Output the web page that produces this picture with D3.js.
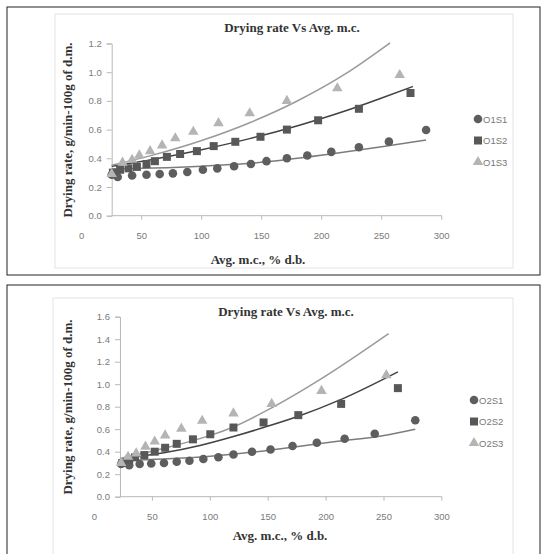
<!DOCTYPE html>
<html>
<head>
<meta charset="utf-8">
<script src="https://cdn.jsdelivr.net/npm/d3@7/dist/d3.min.js"></script>
<style>
  body { margin: 0; background: #fff; }
  svg { display: block; }
</style>
</head>
<body>
<div id="container"></div>
<script>
// ---- data ----
const xTicks = [0, 50, 100, 150, 200, 250, 300];
const yTicksTop = [0, 0.2, 0.4, 0.6, 0.8, 1.0, 1.2];
const yTicksBottom = [0, 0.2, 0.4, 0.6, 0.8, 1.0, 1.2, 1.4, 1.6];

const seriesTop = ['O1S1', 'O1S2', 'O1S3'];
const seriesBottom = ['O2S1', 'O2S2', 'O2S3'];

// panel 1 points [avg m.c., drying rate]
const o1s1 = [[25, 0.285], [30, 0.27], [42, 0.28], [54, 0.285], [65, 0.29], [76, 0.295], [88, 0.305], [101, 0.32], [113, 0.33], [127, 0.345], [141, 0.36], [154, 0.38], [171, 0.40], [188, 0.42], [208, 0.445], [231, 0.477], [256, 0.516], [287, 0.597]];
const o1s2 = [[26, 0.30], [32, 0.32], [39, 0.33], [46, 0.34], [54, 0.36], [61, 0.38], [71, 0.41], [82, 0.43], [96, 0.45], [110, 0.485], [128, 0.515], [149, 0.55], [171, 0.60], [197, 0.665], [231, 0.745], [274, 0.855]];
const o1s3 = [[25, 0.29], [34, 0.37], [42, 0.39], [48, 0.42], [57, 0.45], [67, 0.49], [78, 0.54], [93, 0.585], [114, 0.645], [140, 0.714], [171, 0.80], [213, 0.888], [265, 0.98]];

// panel 1 trend lines
const trendO1S1 = [[25, 0.325], [60, 0.332], [100, 0.345], [140, 0.365], [170, 0.39], [209, 0.432], [250, 0.48], [287, 0.527]];
const trendO1S2 = [[25, 0.345], [60, 0.394], [100, 0.46], [140, 0.537], [180, 0.627], [220, 0.731], [250, 0.82], [276, 0.9]];
const trendO1S3 = [[25, 0.352], [60, 0.424], [100, 0.524], [140, 0.648], [180, 0.801], [220, 0.99], [257, 1.205]];

// panel 2 points
const o2s1 = [[23, 0.29], [30, 0.28], [39, 0.29], [49, 0.295], [60, 0.30], [71, 0.31], [82, 0.32], [94, 0.335], [107, 0.35], [120, 0.375], [136, 0.40], [152, 0.42], [171, 0.45], [192, 0.48], [216, 0.515], [242, 0.56], [277, 0.68]];
const o2s2 = [[24, 0.30], [30, 0.33], [35, 0.35], [43, 0.37], [52, 0.40], [61, 0.435], [71, 0.47], [85, 0.51], [100, 0.555], [120, 0.615], [146, 0.66], [176, 0.725], [213, 0.825], [262, 0.965]];
const o2s3 = [[23, 0.30], [29, 0.355], [36, 0.385], [44, 0.445], [52, 0.49], [61, 0.545], [75, 0.605], [93, 0.675], [120, 0.74], [153, 0.825], [196, 0.94], [252, 1.08]];

const trendO2S1 = [[22, 0.32], [60, 0.335], [100, 0.36], [140, 0.40], [171, 0.44], [210, 0.492], [250, 0.545], [277, 0.60]];
const trendO2S2 = [[22, 0.335], [60, 0.39], [91, 0.455], [120, 0.535], [146, 0.615], [176, 0.715], [213, 0.865], [262, 1.11]];
const trendO2S3 = [[22, 0.34], [60, 0.43], [100, 0.545], [120, 0.62], [153, 0.79], [196, 1.05], [254, 1.45]];

const svg = d3.select('#container')
  .append('svg')
  .attr('width', 546)
  .attr('height', 554);

const markerFill = ['#5e5e5e', '#585858', '#b4b4b4'];
const lineColor = ['#7c7c7c', '#424242', '#9a9a9a'];
const symbolTypes = [d3.symbolCircle, d3.symbolSquare, d3.symbolTriangle];
const symbolSizes = [58, 64, 48];

const drawPanel = (p) => {
  //outer frame + inner chart area
  svg.append('rect')
    .attr('x', p.frame[0]).attr('y', p.frame[1])
    .attr('width', p.frame[2]).attr('height', p.frame[3])
    .style('fill', 'none').style('stroke', '#222').style('stroke-width', 1);
  svg.append('rect')
    .attr('x', p.area[0]).attr('y', p.area[1])
    .attr('width', p.area[2]).attr('height', p.area[3])
    .style('fill', 'none').style('stroke', '#e4e4e4').style('stroke-width', 1);

  const xScale = d3.scaleLinear().domain([0, 300]).range(p.xRange);
  const yScale = d3.scaleLinear().domain([0, d3.max(p.yTicks)]).range(p.yRange);

  const g = svg.append('g');

  //x axis, starts where the value axis crosses
  g.append('line')
    .attr('x1', xScale(p.cross)).attr('x2', xScale(300))
    .attr('y1', yScale(0)).attr('y2', yScale(0))
    .style('stroke', '#b8b8b8');
  g.selectAll('.xtick')
    .data(xTicks.filter(d => d > p.cross))
    .enter().append('line')
    .attr('x1', d => xScale(d)).attr('x2', d => xScale(d))
    .attr('y1', yScale(0)).attr('y2', yScale(0) + 4)
    .style('stroke', '#b8b8b8');
  g.selectAll('.xlabel')
    .data(xTicks)
    .enter().append('text')
    .attr('x', d => xScale(d))
    .attr('y', yScale(0) + 23)
    .attr('text-anchor', 'middle')
    .style('font-family', 'Liberation Sans, Arial, sans-serif')
    .style('font-size', '9.5px')
    .style('fill', '#7a7a7a')
    .text(d => d);

  //y axis
  const yAxis = d3.axisLeft(yScale)
    .tickValues(p.yTicks)
    .tickFormat(d3.format('.1f'))
    .tickSize(5)
    .tickPadding(5);
  g.append('g')
    .attr('transform', `translate(${xScale(p.cross)},0)`)
    .call(yAxis)
    .call(a => a.select('.domain').style('stroke', '#b8b8b8'))
    .call(a => a.selectAll('.tick line').style('stroke', '#b8b8b8'))
    .call(a => a.selectAll('.tick text')
      .style('font-family', 'Liberation Sans, Arial, sans-serif')
      .style('font-size', '9.5px')
      .style('fill', '#7a7a7a'));

  //trend lines
  const line = d3.line()
    .x(d => xScale(d[0]))
    .y(d => yScale(d[1]))
    .curve(d3.curveMonotoneX);
  p.trends.forEach((t, i) => {
    g.append('path')
      .datum(t)
      .attr('d', line)
      .style('fill', 'none')
      .style('stroke', lineColor[i])
      .style('stroke-width', 1.5);
  });

  //markers
  p.points.forEach((pts, i) => {
    g.selectAll(`.m${i}`)
      .data(pts)
      .enter().append('path')
      .attr('class', `m${i}`)
      .attr('transform', d => `translate(${xScale(d[0])},${yScale(d[1])})`)
      .attr('d', d3.symbol().type(symbolTypes[i]).size(symbolSizes[i]))
      .style('fill', markerFill[i]);
  });

  //title
  svg.append('text')
    .attr('x', p.titleX).attr('y', p.titleY)
    .attr('text-anchor', 'middle')
    .style('font-family', 'Liberation Serif, Times New Roman, serif')
    .style('font-weight', 'bold')
    .style('font-size', '13px')
    .style('fill', '#333')
    .text('Drying rate Vs Avg. m.c.');

  //axis titles
  svg.append('text')
    .attr('transform', `translate(${p.yTitle[0]},${p.yTitle[1]}) rotate(-90)`)
    .attr('text-anchor', 'middle')
    .style('font-family', 'Liberation Serif, Times New Roman, serif')
    .style('font-weight', 'bold')
    .style('font-size', '13px')
    .style('fill', '#333')
    .text('Drying rate, g/min-100g of d.m.');
  svg.append('text')
    .attr('x', p.xTitle[0]).attr('y', p.xTitle[1])
    .attr('text-anchor', 'middle')
    .style('font-family', 'Liberation Serif, Times New Roman, serif')
    .style('font-weight', 'bold')
    .style('font-size', '13px')
    .style('fill', '#333')
    .text('Avg. m.c., % d.b.');

  //legend
  const legend = svg.append('g')
    .attr('transform', `translate(${p.legend[0]},${p.legend[1]})`);
  p.names.forEach((name, i) => {
    const row = legend.append('g').attr('transform', `translate(0,${i * 21.5})`);
    row.append('path')
      .attr('d', d3.symbol().type(symbolTypes[i]).size(symbolSizes[i]))
      .style('fill', markerFill[i]);
    row.append('text')
      .attr('x', 5).attr('y', 3.5)
      .style('font-family', 'Liberation Sans, Arial, sans-serif')
      .style('font-size', '9.5px')
      .style('fill', '#777')
      .text(name);
  });
};

drawPanel({
  frame: [7, 7, 533, 268],
  area: [55, 14, 458, 254],
  xRange: [81.7, 441.7],
  yRange: [215.7, 43.5],
  yTicks: yTicksTop,
  cross: 25,
  points: [o1s1, o1s2, o1s3],
  trends: [trendO1S1, trendO1S2, trendO1S3],
  names: seriesTop,
  titleX: 292, titleY: 32,
  yTitle: [72, 130],
  xTitle: [258, 264],
  legend: [478, 119]
});

drawPanel({
  frame: [7, 285, 533, 290],
  area: [53, 298, 460, 270],
  xRange: [94.5, 441.9],
  yRange: [496.7, 316.7],
  yTicks: yTicksBottom,
  cross: 22,
  points: [o2s1, o2s2, o2s3],
  trends: [trendO2S1, trendO2S2, trendO2S3],
  names: seriesBottom,
  titleX: 286, titleY: 316,
  yTitle: [72, 407],
  xTitle: [280, 540],
  legend: [474, 400]
});
</script>
</body>
</html>
